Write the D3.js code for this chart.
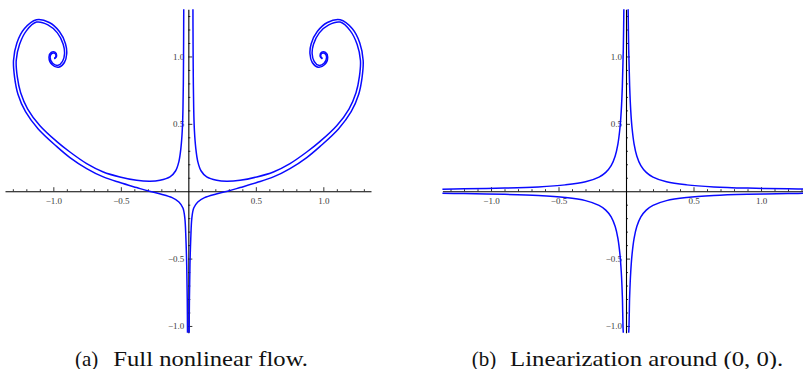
<!DOCTYPE html>
<html>
<head>
<meta charset="utf-8">
<script src="https://cdn.jsdelivr.net/npm/d3@7"></script>
<style>
  body { margin: 0; background: #fff; }
</style>
</head>
<body>
<div id="chart-area"></div>
<script>
var serif = "'Liberation Serif', 'Times New Roman', 'DejaVu Serif', serif";

// tick labels shared by both panels
var majorTicks = [-1.0, -0.5, 0.5, 1.0];

// (a) right half of the nonlinear flow; left half is its mirror
var upperTraj = [
  [0.034, 1.38], [0.035, 1.1], [0.037, 0.8], [0.040, 0.6], [0.045, 0.45], [0.055, 0.32],
  [0.070, 0.22], [0.095, 0.15], [0.136, 0.106], [0.21, 0.081], [0.284, 0.074], [0.383, 0.081],
  [0.507, 0.106], [0.63, 0.143], [0.753, 0.205], [0.877, 0.291], [0.976, 0.370], [1.099, 0.486],
  [1.190, 0.61], [1.242, 0.73], [1.267, 0.85], [1.275, 0.97], [1.25, 1.09], [1.20, 1.19],
  [1.125, 1.255], [1.04, 1.235], [0.97, 1.175], [0.927, 1.09], [0.917, 1.02], [0.932, 0.963],
  [0.965, 0.934], [1.005, 0.950], [1.024, 0.995], [1.012, 1.022], [0.988, 1.022], [0.981, 1.0],
  [0.993, 0.985]
];
var lowerTraj = [
  [0.006, -1.08], [0.008, -0.8], [0.012, -0.55], [0.018, -0.35], [0.026, -0.2], [0.04, -0.125],
  [0.07, -0.08], [0.12, -0.048], [0.2, -0.022], [0.29, 0], [0.383, 0.027], [0.507, 0.064],
  [0.63, 0.106], [0.753, 0.168], [0.877, 0.25], [0.976, 0.333], [1.112, 0.462], [1.206, 0.59],
  [1.262, 0.72], [1.287, 0.845], [1.295, 0.97], [1.27, 1.10], [1.215, 1.205], [1.125, 1.272],
  [1.03, 1.252], [0.955, 1.185], [0.91, 1.095], [0.901, 1.02], [0.918, 0.955], [0.961, 0.92],
  [1.01, 0.94], [1.032, 0.995], [1.016, 1.03], [0.986, 1.03], [0.977, 1.0], [0.993, 0.982]
];

// (b) linearization: the right-hand branches of the saddle
var hypUpper = [
  [0.0155, 1.38], [0.02, 1.05], [0.027, 0.78], [0.035, 0.6], [0.045, 0.467], [0.06, 0.35],
  [0.08, 0.262], [0.11, 0.19], [0.15, 0.14], [0.2, 0.105], [0.3, 0.07], [0.45, 0.047],
  [0.65, 0.032], [0.9, 0.023], [1.2, 0.0175], [1.4, 0.015]
];
var hypLower = [
  [0.0155, -1.08], [0.02, -1.05], [0.027, -0.78], [0.035, -0.6], [0.045, -0.467], [0.06, -0.35],
  [0.08, -0.262], [0.11, -0.19], [0.15, -0.14], [0.2, -0.105], [0.3, -0.07], [0.45, -0.047],
  [0.65, -0.032], [0.9, -0.023], [1.2, -0.0175], [1.4, -0.015]
];

var captions = [
  { tag: "(a)", text: "Full nonlinear flow." },
  { tag: "(b)", text: "Linearization around (0, 0)." }
];

var mirror = function(pts){ return pts.map(function(p){ return [-p[0], p[1]]; }); };

var panels = [
  { id: "a", xDom: [-1.358, 1.353], xRange: [5, 371],
    curves: [upperTraj, lowerTraj, mirror(upperTraj), mirror(lowerTraj)],
    cap: { tagX: 75, textX: 113.3, textW: 194.7 } },
  { id: "b", xDom: [-1.36, 1.36], xRange: [442.4, 809.6],
    curves: [hypUpper, hypLower, mirror(hypUpper), mirror(hypLower)],
    cap: { tagX: 471.7, textX: 510, textW: 273.3 } }
];
var yDom = [-1.05, 1.35], yRange = [332.7, 9.3];

var svg = d3.select("#chart-area").append("svg")
    .attr("width", 803)
    .attr("height", 369);

var fmt = d3.format(".1f");
var minor = d3.range(-13, 14).map(function(i){ return i / 10; })
    .filter(function(v){ return Math.abs(v) > 1e-9 && Math.abs(v * 2 - Math.round(v * 2)) > 1e-9; });

panels.forEach(function(p, i){
    var x = d3.scaleLinear().domain(p.xDom).range(p.xRange);
    var y = d3.scaleLinear().domain(yDom).range(yRange);
    var g = svg.append("g");

    g.append("clipPath").attr("id", "clip-" + p.id)
      .append("rect")
        .attr("x", p.xRange[0]).attr("y", yRange[1])
        .attr("width", p.xRange[1] - p.xRange[0])
        .attr("height", yRange[0] - yRange[1]);

    var x0 = y(0), y0 = x(0);

    // minor ticks
    g.append("g").attr("transform", "translate(0," + x0 + ")")
      .call(d3.axisBottom(x).tickValues(minor.filter(function(v){ return v > p.xDom[0] && v < p.xDom[1]; }))
        .tickSizeInner(-2).tickSizeOuter(0).tickFormat(""))
      .call(function(s){ s.select(".domain").remove(); });
    g.append("g").attr("transform", "translate(" + y0 + ",0)")
      .call(d3.axisLeft(y).tickValues(minor.filter(function(v){ return v > yDom[0] && v < yDom[1]; }))
        .tickSizeInner(-2).tickSizeOuter(0).tickFormat(""))
      .call(function(s){ s.select(".domain").remove(); });

    // major ticks with labels
    g.append("g").attr("class", "x axis").attr("transform", "translate(0," + x0 + ")")
      .call(d3.axisBottom(x).tickValues(majorTicks).tickSizeInner(-4).tickSizeOuter(0)
        .tickPadding(6).tickFormat(fmt));
    g.append("g").attr("class", "y axis").attr("transform", "translate(" + y0 + ",0)")
      .call(d3.axisLeft(y).tickValues(majorTicks).tickSizeInner(-4).tickSizeOuter(0)
        .tickPadding(4).tickFormat(fmt));

    g.selectAll(".axis").attr("font-family", serif).attr("font-size", 9);
    g.selectAll(".domain").attr("stroke", "#000").attr("stroke-width", 1.1);
    g.selectAll(".tick line").attr("stroke", "#000").attr("stroke-width", 0.8);
    g.selectAll(".tick text").attr("fill", "#3c3c3c");

    var line = d3.line()
        .x(function(d){ return x(d[0]); })
        .y(function(d){ return y(d[1]); })
        .curve(d3.curveCatmullRom.alpha(0.5));

    g.append("g").attr("clip-path", "url(#clip-" + p.id + ")")
      .selectAll("path.traj").data(p.curves).enter().append("path")
        .attr("class", "traj")
        .attr("d", line)
        .attr("fill", "none")
        .attr("stroke", "#0a0aff")
        .attr("stroke-width", 1.5);

    var c = captions[i];
    svg.append("text")
        .attr("font-family", serif).attr("font-size", 21).attr("fill", "#111")
        .attr("x", p.cap.tagX).attr("y", 365.5).text(c.tag);
    svg.append("text")
        .attr("font-family", serif).attr("font-size", 21).attr("fill", "#111")
        .attr("x", p.cap.textX).attr("y", 365.5)
        .attr("textLength", p.cap.textW)
        .attr("lengthAdjust", "spacingAndGlyphs")
        .text(c.text);
});
</script>
</body>
</html>
